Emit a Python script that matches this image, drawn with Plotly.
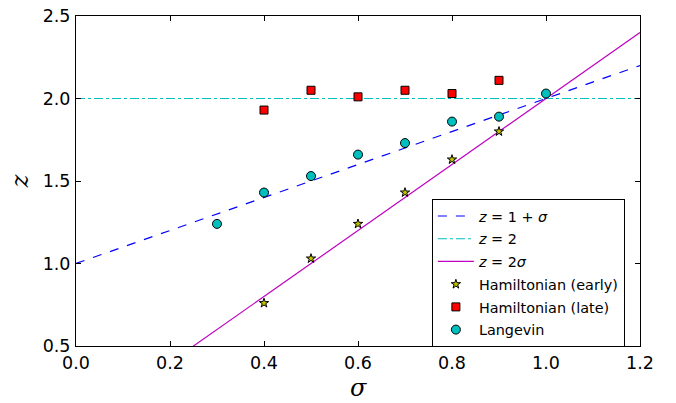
import numpy as np
import plotly.graph_objects as go

# Data
sigma_line = [0.0, 1.2]
ham_early_x = [0.4, 0.5, 0.6, 0.7, 0.8, 0.9]
ham_early_z = [0.76, 1.03, 1.24, 1.43, 1.63, 1.80]
ham_late_x = [0.4, 0.5, 0.6, 0.7, 0.8, 0.9]
ham_late_z = [1.93, 2.05, 2.01, 2.05, 2.03, 2.11]
lang_x = [0.3, 0.4, 0.5, 0.6, 0.7, 0.8, 0.9, 1.0]
lang_z = [1.24, 1.43, 1.53, 1.66, 1.73, 1.86, 1.89, 2.03]
x_ticks = [0.0, 0.2, 0.4, 0.6, 0.8, 1.0, 1.2]
y_ticks = [0.5, 1.0, 1.5, 2.0, 2.5]

sl = np.array(sigma_line)

fig = go.Figure()
fig.add_trace(go.Scatter(x=sl, y=1 + sl, mode="lines", legendgroup="a",
                         line=dict(color="#0000ff", dash="dash", width=1.2),
                         name="<i>z</i> = 1 + <i>σ</i>"))
fig.add_trace(go.Scatter(x=sl, y=[2, 2], mode="lines", legendgroup="b",
                         line=dict(color="#00bfbf", dash="dashdot", width=1.2),
                         name="<i>z</i> = 2"))
fig.add_trace(go.Scatter(x=sl, y=2 * sl, mode="lines", legendgroup="c",
                         line=dict(color="#bf00bf", width=1.2),
                         name="<i>z</i> = 2<i>σ</i>"))
fig.add_trace(go.Scatter(x=ham_early_x, y=ham_early_z, mode="markers", legendgroup="d",
                         marker=dict(symbol="star", size=7, color="#bfbf00",
                                     line=dict(color="black", width=1)),
                         name="Hamiltonian (early)"))
fig.add_trace(go.Scatter(x=ham_late_x, y=ham_late_z, mode="markers", legendgroup="e",
                         marker=dict(symbol="square", size=8, color="#ff0000",
                                     line=dict(color="black", width=1)),
                         name="Hamiltonian (late)"))
fig.add_trace(go.Scatter(x=lang_x, y=lang_z, mode="markers", legendgroup="f",
                         marker=dict(symbol="circle", size=9, color="#00bfbf",
                                     line=dict(color="black", width=1)),
                         name="Langevin"))

axis_common = dict(showgrid=False, zeroline=False, showline=True, linecolor="black",
                   linewidth=1, mirror="ticks", ticks="inside", ticklen=5,
                   tickcolor="black", automargin=False,
                   tickfont=dict(family="DejaVu Sans", size=17.5, color="black"))

fig.update_layout(
    width=676, height=403,
    margin=dict(l=76, r=36, t=16, b=57),
    paper_bgcolor="white", plot_bgcolor="white",
    showlegend=True,
    legend=dict(x=0.631, y=0.445, xanchor="left", yanchor="top",
                bgcolor="white", bordercolor="black", borderwidth=1,
                font=dict(family="DejaVu Sans", size=14.4, color="black"),
                tracegroupgap=1, itemwidth=36),
    xaxis=dict(range=[0, 1.2], tickvals=x_ticks, ticktext=[f"{v:.1f}" for v in x_ticks],
               ticklabelstandoff=1, **axis_common),
    yaxis=dict(range=[0.5, 2.5], tickvals=y_ticks, ticktext=[f"{v:.1f}" for v in y_ticks],
               ticklabelstandoff=1, **axis_common),
    annotations=[
        dict(text="<i>σ</i>", x=0.5, y=-0.128, xref="paper", yref="paper",
             xanchor="center", yanchor="middle", showarrow=False,
             font=dict(family="DejaVu Serif", size=24, color="black")),
        dict(text="<i>z</i>", x=-0.099, y=0.5, xref="paper", yref="paper",
             xanchor="center", yanchor="middle", showarrow=False, textangle=-90,
             font=dict(family="DejaVu Serif", size=24, color="black")),
    ],
)

fig.write_html("out.html", config={"displayModeBar": False},
               post_script="document.body.style.margin='0';")
